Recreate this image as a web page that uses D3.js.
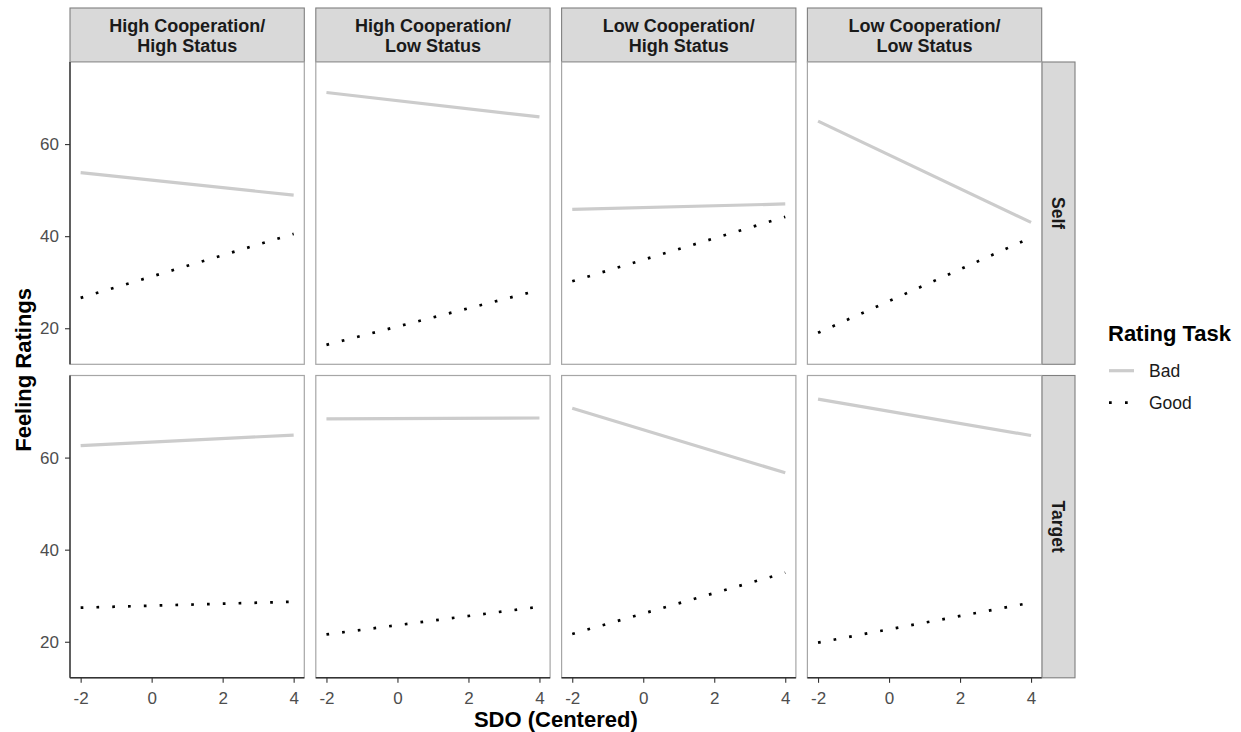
<!DOCTYPE html>
<html>
<head>
<meta charset="utf-8">
<script src="https://cdn.jsdelivr.net/npm/d3@7"></script>
<style>
  body { margin: 0; background: #fff; }
  svg { display: block; font-family: "Liberation Sans", Arial, Helvetica, sans-serif; }
</style>
</head>
<body>
<svg id="chart" width="1241" height="732"></svg>
<script>
// ---- Data ----
const conditions = [
  ["High Cooperation/", "High Status"],
  ["High Cooperation/", "Low Status"],
  ["Low Cooperation/", "High Status"],
  ["Low Cooperation/", "Low Status"]
];
const targets = ["Self", "Target"];
const sdo = [-2, 4];
const xTicks = [-2, 0, 2, 4];
const yTicks = [20, 40, 60];
const ratingTasks = ["Bad", "Good"];
// [value at SDO=-2, value at SDO=4] per condition
const badSelf     = [[53.8, 48.9], [71.2, 65.9], [45.8, 47.0], [65.0, 43.0]];
const goodSelf    = [[26.6, 40.5], [16.4, 28.3], [30.2, 44.2], [19.0, 39.7]];
const badTarget   = [[62.6, 64.9], [68.4, 68.6], [70.7, 56.7], [72.7, 64.8]];
const goodTarget  = [[27.4, 28.7], [21.6, 27.6], [21.7, 35.0], [19.8, 28.5]];

const seriesByRow = {
  Self:   { Bad: badSelf,   Good: goodSelf },
  Target: { Bad: badTarget, Good: goodTarget }
};

// ---- Layout ----
const svg = d3.select("#chart");
const colLeft0 = 70, colStep = 245.8, panelW = 234.3;
const rowTops = [62, 375.5], panelH = 302.3;
const stripTop = 8, stripH = 54;
const rStripX = 1042, rStripW = 33;

const styles = {
  Bad:  { stroke: "#cccccc", width: 3.2, dash: null },
  Good: { stroke: "#000000", width: 2.7, dash: "2.7,13.1" }
};

const xDomain = [-2.3, 4.3];
const yDomain = [12.17, 77.83];
const font = "Liberation Sans, Arial, sans-serif";

conditions.forEach((cond, ci) => {
  const x0 = colLeft0 + ci * colStep;
  svg.append("rect").attr("x", x0).attr("y", stripTop).attr("width", panelW).attr("height", stripH)
    .attr("fill", "#d9d9d9").attr("stroke", "#7f7f7f").attr("stroke-width", 1.1);
  const st = svg.append("text").attr("text-anchor", "middle")
    .attr("font-size", 18).attr("font-weight", "bold").attr("fill", "#1a1a1a");
  st.append("tspan").attr("x", x0 + panelW / 2).attr("y", 32).text(cond[0]);
  st.append("tspan").attr("x", x0 + panelW / 2).attr("y", 51.5).text(cond[1]);
});

targets.forEach((tg, ri) => {
  const y0 = rowTops[ri];
  svg.append("rect").attr("x", rStripX).attr("y", y0).attr("width", rStripW).attr("height", panelH)
    .attr("fill", "#d9d9d9").attr("stroke", "#7f7f7f").attr("stroke-width", 1.1);
  const cx = rStripX + rStripW / 2, cy = y0 + panelH / 2;
  svg.append("text").attr("transform", `translate(${cx},${cy}) rotate(90)`)
    .attr("text-anchor", "middle").attr("dy", "0.35em")
    .attr("font-size", 17.5).attr("font-weight", "bold").attr("fill", "#1a1a1a").text(tg);

  conditions.forEach((cond, ci) => {
    const x0 = colLeft0 + ci * colStep;
    const xs = d3.scaleLinear().domain(xDomain).range([x0, x0 + panelW]);
    const ys = d3.scaleLinear().domain(yDomain).range([y0 + panelH, y0]);
    const g = svg.append("g");

    g.append("rect").attr("x", x0).attr("y", y0).attr("width", panelW).attr("height", panelH)
      .attr("fill", "#fff").attr("stroke", "#a6a6a6").attr("stroke-width", 1.2);

    ratingTasks.forEach(task => {
      const vals = seriesByRow[tg][task][ci];
      const pts = sdo.map((s, i) => [s, vals[i]]);
      const line = d3.line().x(d => xs(d[0])).y(d => ys(d[1]));
      const st = styles[task];
      const p = g.append("path").attr("d", line(pts)).attr("fill", "none")
        .attr("stroke", st.stroke).attr("stroke-width", st.width).attr("stroke-linecap", "butt");
      if (st.dash) p.attr("stroke-dasharray", st.dash);
    });

    if (ci === 0) {
      const ax = g.append("g").attr("transform", `translate(${x0},0)`)
        .call(d3.axisLeft(ys).tickValues(yTicks).tickSize(5).tickPadding(6));
      ax.select(".domain").attr("stroke", "#333333").attr("stroke-width", 1.4)
        .attr("d", `M0,${y0}V${y0 + panelH}`);
      ax.selectAll(".tick line").attr("stroke", "#333333").attr("stroke-width", 1.1);
      ax.selectAll(".tick text").attr("fill", "#4d4d4d").attr("font-size", 17)
        .attr("font-family", font);
    }
    if (ri === 1) {
      const ax = g.append("g").attr("transform", `translate(0,${y0 + panelH})`)
        .call(d3.axisBottom(xs).tickValues(xTicks).tickSize(5).tickPadding(9));
      ax.select(".domain").attr("stroke", "#333333").attr("stroke-width", 1.4)
        .attr("d", `M${x0},0H${x0 + panelW}`);
      ax.selectAll(".tick line").attr("stroke", "#333333").attr("stroke-width", 1.1);
      ax.selectAll(".tick text").attr("fill", "#4d4d4d").attr("font-size", 17)
        .attr("font-family", font)
        .text(d => d < 0 ? "-" + Math.abs(d) : String(d));
    }
  });
});

// axis titles
svg.append("text").attr("x", (colLeft0 + colLeft0 + 3 * colStep + panelW) / 2).attr("y", 727)
  .attr("text-anchor", "middle").attr("font-size", 22).attr("font-weight", "bold").attr("fill", "#000")
  .text("SDO (Centered)");
svg.append("text").attr("transform", `translate(31,${(rowTops[0] + rowTops[1] + panelH) / 2}) rotate(-90)`)
  .attr("text-anchor", "middle").attr("font-size", 22).attr("font-weight", "bold").attr("fill", "#000")
  .text("Feeling Ratings");

// legend
const lg = svg.append("g");
lg.append("text").attr("x", 1108).attr("y", 341).attr("font-size", 22).attr("font-weight", "bold")
  .attr("fill", "#000").text("Rating Task");
ratingTasks.forEach((task, i) => {
  const cy = 370.7 + i * 32;
  const st = styles[task];
  const p = lg.append("line").attr("x1", 1109).attr("x2", 1134).attr("y1", cy).attr("y2", cy)
    .attr("stroke", st.stroke).attr("stroke-width", st.width);
  if (st.dash) p.attr("stroke-dasharray", "2.7,13.3");
  lg.append("text").attr("x", 1149).attr("y", cy).attr("dy", "0.35em").attr("font-size", 17.5)
    .attr("fill", "#1a1a1a").text(task);
});
</script>
</body>
</html>
